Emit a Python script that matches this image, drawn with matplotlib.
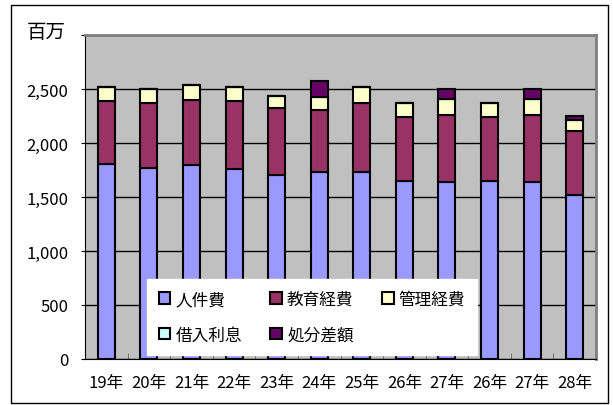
import matplotlib
matplotlib.use('Agg')
import matplotlib.pyplot as plt
import numpy as np
from matplotlib.ticker import FuncFormatter, MultipleLocator, FixedLocator
from matplotlib.patches import Rectangle

plt.rcParams['font.family'] = ['Noto Sans CJK JP', 'DejaVu Sans']

years = ['19年', '20年', '21年', '22年', '23年', '24年', '25年', '26年', '27年', '26年', '27年', '28年']
jinken = [1807, 1773, 1798, 1757, 1701, 1732, 1732, 1651, 1639, 1651, 1639, 1520]
kyoiku = [578, 594, 600, 635, 625, 575, 638, 594, 624, 594, 624, 588]
kanri = [134, 135, 137, 131, 113, 120, 150, 128, 148, 128, 148, 103]
kariire = [0, 0, 0, 0, 0, 0, 0, 0, 0, 0, 0, 0]
shobun = [0, 0, 0, 0, 0, 150, 0, 0, 91, 0, 91, 37]

series = [('人件費', jinken, '#9999FF'),
          ('教育経費', kyoiku, '#993366'),
          ('管理経費', kanri, '#FFFFCC'),
          ('借入利息', kariire, '#CCFFFF'),
          ('処分差額', shobun, '#660066')]

fig = plt.figure(figsize=(6.13, 4.06), dpi=100)
ax = fig.add_axes([85 / 613, 1 - 360 / 406, 511 / 613, 324 / 406])
ax.set_facecolor('#C0C0C0')

x = np.arange(len(years))
bottom = np.zeros(len(years))
handles = []
for name, vals, col in series:
    vals = np.array(vals, dtype=float)
    b = ax.bar(x, vals, 0.4, bottom=bottom, color=col, edgecolor='black',
               linewidth=1.5, zorder=3, label=name)
    handles.append(b)
    bottom += vals

ax.set_xlim(-0.5, len(years) - 0.5)
ax.set_ylim(0, 3000)
ax.yaxis.set_major_locator(MultipleLocator(500))
ax.yaxis.set_major_formatter(FuncFormatter(lambda v, p: '{:,.0f}'.format(v) if v < 3000 else ''))
ax.grid(axis='y', color='black', linewidth=1, zorder=0)
ax.set_axisbelow(True)

ax.set_xticks(x)
ax.set_xticklabels(years)
ax.xaxis.set_minor_locator(FixedLocator(np.arange(0.5, len(years) - 0.5, 1)))
ax.tick_params(axis='x', which='major', length=0, pad=11, labelsize=12)
ax.tick_params(axis='x', which='minor', length=4, direction='in', color='#606060')
ax.tick_params(axis='y', length=3, pad=9, labelsize=12)

for s in ['top', 'right']:
    ax.spines[s].set_color('#808080')
    ax.spines[s].set_linewidth(2)
ax.spines['left'].set_color('black')
ax.spines['bottom'].set_color('black')

# row-wise legend order
order = [0, 3, 1, 4, 2]
leg = ax.legend(handles=[handles[i] for i in order], ncol=3, loc='lower left',
                bbox_to_anchor=(147 / 613, 1 - 356 / 406, 330 / 613, 73 / 406),
                bbox_transform=fig.transFigure, mode='expand', borderaxespad=0,
                fontsize=12, frameon=True, fancybox=False, framealpha=1,
                handlelength=0.7, handleheight=0.7, handletextpad=0.3,
                columnspacing=1.5, labelspacing=1.1, borderpad=0.7)
leg.get_frame().set_edgecolor('white')
leg.set_zorder(5)

fig.text(27 / 613, 1 - 33 / 406, '百万', fontsize=14, va='center', ha='left')

fig.patches.append(Rectangle((11 / 613, 1 - 404 / 406), 597 / 613, 398 / 406,
                             transform=fig.transFigure, fill=False,
                             edgecolor='black', linewidth=1))

fig.savefig('out.png', dpi=100)
